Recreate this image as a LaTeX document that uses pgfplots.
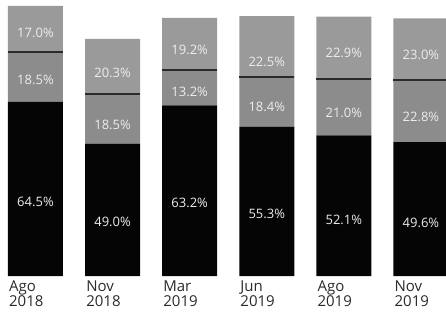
\documentclass[border=0pt]{standalone}
\usepackage{pgfplots}
\pgfplotsset{compat=1.18}
\usepackage{fontspec}
\setmainfont{Open Sans}
\definecolor{topc}{HTML}{9A9A9A}
\definecolor{midc}{HTML}{8C8C8C}
\definecolor{barc}{HTML}{050505}
\definecolor{lab}{HTML}{2A2A2A}
\definecolor{vlab}{HTML}{EDEDED}
\begin{document}
\begin{tikzpicture}
\pgfplotsset{
  base/.style={scale only axis, width=446pt, height=276pt,
    xmin=-0.46, xmax=5.325, ymin=0, ymax=102.2,
    axis line style={draw=none}, anchor=south west, at={(0,0)},
    /pgf/number format/assume math mode=true},
  vl/.style={only marks, mark=none, point meta=explicit symbolic, nodes near coords,
    every node near coord/.append style={anchor=center, text=vlab, inner sep=0pt,
      font=\fontsize{13}{13}\selectfont}},
}
\begin{axis}[base, ybar stacked, bar width=55pt,
  xtick={0,1,2,3,4,5}, ytick=\empty, major tick length=0pt,
  xticklabels={{Ago\\2018},{Nov\\2018},{Mar\\2019},{Jun\\2019},{Ago\\2019},{Nov\\2019}},
  xticklabel style={anchor=north west, align=left, xshift=-26.5pt, inner sep=0pt, yshift=-5pt,
    text=lab, font=\fontsize{15}{15}\selectfont}]
\addplot[fill=barc, draw=none] coordinates {(0,64.5) (1,49.0) (2,63.2) (3,55.3) (4,52.1) (5,49.6)};
\addplot[fill=midc, draw=none] coordinates {(0,18.5) (1,18.5) (2,13.2) (3,18.4) (4,21.0) (5,22.8)};
\addplot[fill=topc, draw=none] coordinates {(0,17.0) (1,20.3) (2,19.2) (3,22.5) (4,22.9) (5,23.0)};
\end{axis}
\begin{axis}[base, xtick=\empty, ytick=\empty]
\addplot[color=lab, line width=2pt] coordinates {(-0.357,83.0) (0.357,83.0)};
\addplot[color=lab, line width=2pt] coordinates {(0.643,67.5) (1.357,67.5)};
\addplot[color=lab, line width=2pt] coordinates {(1.643,76.4) (2.357,76.4)};
\addplot[color=lab, line width=2pt] coordinates {(2.643,73.7) (3.357,73.7)};
\addplot[color=lab, line width=2pt] coordinates {(3.643,73.1) (4.357,73.1)};
\addplot[color=lab, line width=2pt] coordinates {(4.643,72.4) (5.357,72.4)};
% value labels (positions)
\addplot[vl] coordinates {(0,27.4) [64.5\%] (1,20.0) [49.0\%] (2,27.0) [63.2\%] (3,23.0) [55.3\%] (4,20.7) [52.1\%] (5,19.6) [49.6\%]};
\addplot[vl] coordinates {(0,72.6) [18.5\%] (1,55.9) [18.5\%] (2,68.1) [13.2\%] (3,62.6) [18.4\%] (4,60.4) [21.0\%] (5,58.9) [22.8\%]};
\addplot[vl] coordinates {(0,90.0) [17.0\%] (1,75.2) [20.3\%] (2,83.7) [19.2\%] (3,79.3) [22.5\%] (4,82.6) [22.9\%] (5,81.9) [23.0\%]};
\end{axis}
\pgfresetboundingbox
\path[use as bounding box] (0,-38pt) rectangle (446pt,276pt);
\end{tikzpicture}
\end{document}
